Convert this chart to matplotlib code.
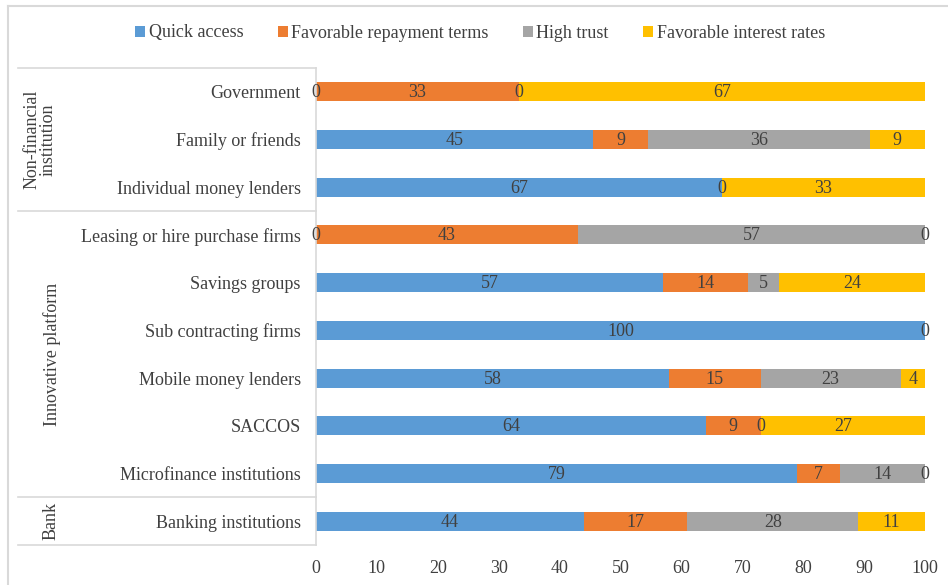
import matplotlib
matplotlib.use("Agg")
import matplotlib.pyplot as plt
from matplotlib.lines import Line2D
import numpy as np

plt.rcParams['font.family'] = ['Liberation Serif', 'DejaVu Serif']

categories = ["Government", "Family or friends", "Individual money lenders",
              "Leasing or hire purchase firms", "Savings groups", "Sub contracting firms",
              "Mobile money lenders", "SACCOS", "Microfinance institutions", "Banking institutions"]
series_names = ["Quick access", "Favorable repayment terms", "High trust", "Favorable interest rates"]
quick_access = [0, 45.45, 66.7, 0, 57, 100, 58, 64, 79, 44]
repayment = [33.3, 9.09, 0, 43, 14, 0, 15, 9, 7, 17]
high_trust = [0, 36.36, 0, 57, 5, 0, 23, 0, 14, 28]
interest = [66.7, 9.09, 33.3, 0, 24, 0, 4, 27, 0, 11]
groups = ["Non-financial\ninstitution", "Innovative platform", "Bank"]
group_sizes = [3, 6, 1]
xticks = [0, 10, 20, 30, 40, 50, 60, 70, 80, 90, 100]

colors = ["#5B9BD5", "#ED7D31", "#A5A5A5", "#FFC000"]
text_color = "#404040"
line_color = "#D9D9D9"
FS = 13

fig = plt.figure(figsize=(9.48, 5.85), dpi=100)
ax = fig.add_axes([316 / 948, 1 - 545 / 585, (925 - 316) / 948, (545 - 68) / 585])

y = np.arange(len(categories))
left = np.zeros(len(categories))
all_series = [quick_access, repayment, high_trust, interest]
drawn = [set() for _ in categories]
for name, vals, c in zip(series_names, all_series, colors):
    vals = np.array(vals, dtype=float)
    ax.barh(y, vals, left=left, height=0.4, color=c, label=name)
    for yi, (l, v) in enumerate(zip(left, vals)):
        xc = round(l + v / 2, 3)
        if xc in drawn[yi]:
            continue
        drawn[yi].add(xc)
        ax.text(xc, yi + 0.02, f"{v:.0f}", ha="center", va="center",
                fontsize=FS, color=text_color)
    left = left + vals

ax.set_xlim(0, 100)
ax.set_ylim(len(categories) - 0.5, -0.5)
ax.set_xticks(xticks)
ax.set_xticklabels([str(t) for t in xticks], fontsize=FS, color=text_color)
ax.set_yticks(y)
ax.set_yticklabels(categories, fontsize=FS, color=text_color)
ax.tick_params(axis="both", length=0)
ax.tick_params(axis="x", pad=11)
ax.tick_params(axis="y", pad=11)
for s in ["top", "right", "bottom"]:
    ax.spines[s].set_visible(False)
ax.spines["left"].set_color(line_color)
ax.spines["left"].set_linewidth(1.2)

# group table lines and labels (in figure pixels)
W, H = 948, 585
y_top, y_bot = 68, 545
step = (y_bot - y_top) / len(categories)
bounds = [y_top]
acc = 0
for g in group_sizes:
    acc += g
    bounds.append(y_top + acc * step)
for b in bounds:
    fig.add_artist(Line2D([18 / W, 316 / W], [1 - b / H, 1 - b / H], color=line_color, lw=1.2))
group_x = [40, 52, 51]
for gname, x, b0, b1 in zip(groups, group_x, bounds[:-1], bounds[1:]):
    fig.text(x / W, 1 - (b0 + b1) / 2 / H, gname, rotation=90, ha="center", va="center",
             fontsize=FS, color=text_color, linespacing=0.95)

# outer frame (top and left visible)
fig.add_artist(Line2D([8 / W, 1.0], [1 - 6 / H, 1 - 6 / H], color=line_color, lw=1.5))
fig.add_artist(Line2D([8 / W, 8 / W], [0, 1 - 6 / H], color=line_color, lw=1.5))

handles, labels = ax.get_legend_handles_labels()
leg = fig.legend(handles, labels, loc="center", bbox_to_anchor=(480 / W, 1 - 33 / H), ncol=4,
                 frameon=False, fontsize=FS, handlelength=0.55, handleheight=0.55,
                 handletextpad=0.2, columnspacing=1.9)
for t in leg.get_texts():
    t.set_color(text_color)

fig.savefig("out.png", dpi=100)
